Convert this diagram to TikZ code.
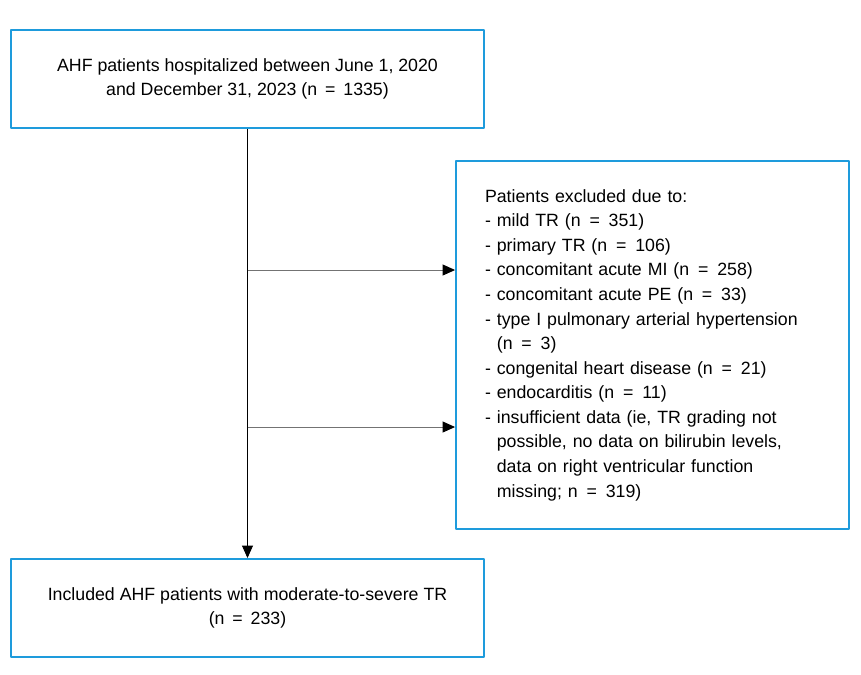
\documentclass[tikz,border=0pt]{standalone}
\usepackage{fontspec}
\setmainfont{Liberation Sans}
\usetikzlibrary{arrows.meta}
\definecolor{boxblue}{RGB}{30,155,220}
\newcommand{\eqn}{\ \,=\ \,}
\tikzset{
  flowbox/.style={draw=boxblue, line width=1.1pt, align=center,
    minimum width=9.46cm, minimum height=1.96cm, inner sep=0pt,
    font=\fontsize{10.1}{14}\selectfont},
  exclbox/.style={draw=boxblue, line width=1.1pt, align=left,
    text width=6.7cm, inner xsep=0.58cm, minimum height=7.36cm,
    font=\fontsize{10.1}{14}\selectfont},
  flowarrow/.style={-{Triangle[length=0.25cm, width=0.22cm, color=black]}, line width=0.5pt}
}
\begin{document}
\begin{tikzpicture}[x=0.02cm, y=-0.02cm, line join=round]
    \useasboundingbox (0,0) rectangle (861,674);

    % 1. 定义三个方框
    \node[flowbox] (start) at (247.5,79)
      {AHF patients hospitalized between June 1, 2020\\
       and December 31, 2023 (n\eqn1335)};
    \node[exclbox] (excl) at (652.5,345)
      {Patients excluded due to:\\
       - mild TR (n\eqn351)\\
       - primary TR (n\eqn106)\\
       - concomitant acute MI (n\eqn258)\\
       - concomitant acute PE (n\eqn33)\\
       - type I pulmonary arterial hypertension\\
       \phantom{- }(n\eqn3)\\
       - congenital heart disease (n\eqn21)\\
       - endocarditis (n\eqn11)\\
       - insufficient data (ie, TR grading not\\
       \phantom{- }possible, no data on bilirubin levels,\\
       \phantom{- }data on right ventricular function\\
       \phantom{- }missing; n\eqn319)};
    \node[flowbox] (incl) at (247.5,608)
      {Included AHF patients with moderate-to-severe TR\\
       (n\eqn233)};

    % 2. 定义分支点
    \coordinate (b1) at (247.5,270);
    \coordinate (b2) at (247.5,427);

    % 3. 绘制箭头
    \draw[flowarrow] (start) -- (incl);
    \draw[flowarrow, black!55] (b1) -- (b1 -| excl.west);
    \draw[flowarrow, black!55] (b2) -- (b2 -| excl.west);

\end{tikzpicture}
\end{document}
